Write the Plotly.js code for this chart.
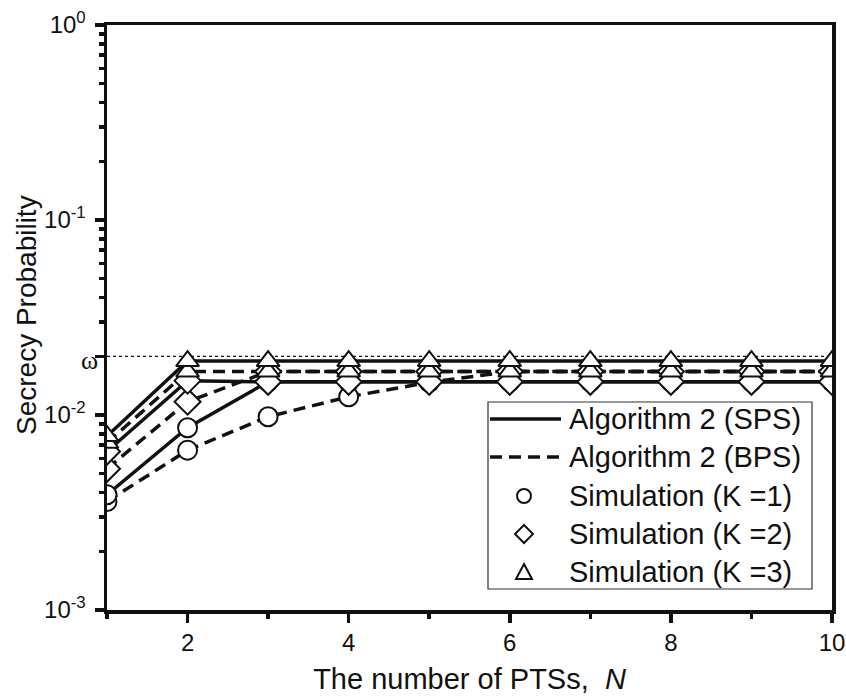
<!DOCTYPE html>
<html><head><meta charset="utf-8">
<script src="https://cdn.plot.ly/plotly-3.0.1.min.js"></script>
<style>body{margin:0;background:#fff}#chart{width:846px;height:696px}</style>
</head><body><div id="chart"></div>
<script>
const N = [1,2,3,4,5,6,7,8,9,10];
const spsK3 = [0.0078,0.0189,0.0189,0.0189,0.0189,0.0189,0.0189,0.0189,0.0189,0.0189];
const bpsK3 = [0.0072,0.0167,0.0167,0.0167,0.0167,0.0167,0.0167,0.0167,0.0167,0.0167];
const spsK2 = [0.0065,0.0150,0.0148,0.0148,0.0148,0.0148,0.0148,0.0148,0.0148,0.0148];
const bpsK2 = [0.0053,0.0117,0.0167,0.0167,0.0167,0.0167,0.0167,0.0167,0.0167,0.0167];
const spsK1 = [0.0039,0.0086,0.0148,0.0148,0.0148,0.0148,0.0148,0.0148,0.0148,0.0148];
const bpsK1 = [0.0036,0.0066,0.0098,0.0124,0.0147,0.0167,0.0167,0.0167,0.0167,0.0167];
const omega = 0.02;
const omegaLabel = "ω";
const legendNames = ["Algorithm 2 (SPS)","Algorithm 2 (BPS)","Simulation (K =1)","Simulation (K =2)","Simulation (K =3)"];
const yTitle = "Secrecy Probability";
const xTitle = "The number of PTSs,  <i>N</i>";
const yTickVals = [0.001,0.01,omega,0.1,1];
const yTickText = ["10<sup>-3</sup>","10<sup>-2</sup>"," ","10<sup>-1</sup>","10<sup>0</sup>"];
const xTickVals = [2,4,6,8,10];

const minorY = [];
for (let e=-3;e<0;e++) for (let d=2;d<=9;d++) minorY.push(d*Math.pow(10,e));

const DASH = '12px,7px';
const LW = 3.5;
function line(y, dash){
  return {x:N, y:y, mode:'lines', type:'scatter', showlegend:false,
    line:{color:'#111', width:LW, dash:dash}, hoverinfo:'skip'};
}
function mk(y, sym, size){
  return {x:N, y:y, mode:'markers', type:'scatter', showlegend:false,
    marker:{symbol:sym, size:size, color:'#fff', line:{color:'#111', width:2}}, cliponaxis:true};
}
const traces = [
  {x:N.slice(0), y:N.map(()=>omega), mode:'lines', showlegend:false, line:{color:'#111', width:1.2, dash:'3px,3px'}},
  line(spsK3,'solid'), line(spsK2,'solid'), line(spsK1,'solid'),
  line(bpsK3,DASH), line(bpsK2,DASH), line(bpsK1,DASH),
  mk(bpsK1,'circle',19), mk(spsK1,'circle',19),
  mk(bpsK2,'diamond',20), mk(spsK2,'diamond',20),
  mk(bpsK3,'triangle-up',20), mk(spsK3,'triangle-up',20)
];

// ----- hand-built legend (paper coordinates) -----
const M = {l:107, r:14, t:25, b:86};
const PW = 846 - M.l - M.r, PH = 696 - M.t - M.b;
const px = v => (v - M.l) / PW;
const py = v => (696 - M.b - v) / PH;
const font = "Liberation Sans, Arial, sans-serif";
const box = {x0:488, x1:812, y0:402, y1:589};
const rows = [419, 457, 496, 534, 572];
const shapes = [
  {type:'rect', xref:'paper', yref:'paper', x0:px(box.x0), x1:px(box.x1), y0:py(box.y1), y1:py(box.y0),
   line:{color:'#333', width:1.2}, fillcolor:'#fff', layer:'above'},
  {type:'line', xref:'paper', yref:'paper', x0:px(490), x1:px(561), y0:py(rows[0]), y1:py(rows[0]),
   line:{color:'#111', width:LW}, layer:'above'},
  {type:'line', xref:'paper', yref:'paper', x0:px(490), x1:px(561), y0:py(rows[1]), y1:py(rows[1]),
   line:{color:'#111', width:LW, dash:DASH}, layer:'above'},
  {type:'circle', xref:'paper', yref:'paper', xsizemode:'pixel', ysizemode:'pixel',
   xanchor:px(524), yanchor:py(rows[2]), x0:-7, x1:7, y0:-7, y1:7,
   line:{color:'#111', width:2}, fillcolor:'#fff', layer:'above'},
  {type:'path', xref:'paper', yref:'paper', xsizemode:'pixel', ysizemode:'pixel',
   xanchor:px(524), yanchor:py(rows[3]), path:'M0,9 L9,0 L0,-9 L-9,0 Z',
   line:{color:'#111', width:2}, fillcolor:'#fff', layer:'above'},
  {type:'path', xref:'paper', yref:'paper', xsizemode:'pixel', ysizemode:'pixel',
   xanchor:px(524), yanchor:py(rows[4]), path:'M0,8 L8,-7 L-8,-7 Z',
   line:{color:'#111', width:2}, fillcolor:'#fff', layer:'above'}
];
const annotations = legendNames.map((t,i)=>({
  text:t, xref:'paper', yref:'paper', x:px(567), y:py(rows[i]), xanchor:'left', yanchor:'middle',
  showarrow:false, font:{family:font, size:29, color:'#111'}
}));
annotations.push({text:yTitle, xref:'paper', yref:'paper', x:px(26), y:py(315), xanchor:'center', yanchor:'middle',
  textangle:-90, showarrow:false, font:{family:font, size:28, color:'#111'}});
annotations.push({text:omegaLabel, xref:'paper', yref:'y', x:px(100), y:Math.log10(omega), xanchor:'right', yanchor:'middle',
  yshift:-4, showarrow:false, font:{family:"Liberation Serif, 'DejaVu Serif', serif", size:26, color:'#111'}});

const layout = {
  width:846, height:696,
  margin:M,
  paper_bgcolor:'#fff', plot_bgcolor:'#fff',
  font:{family:font, size:24, color:'#111'},
  showlegend:false,
  shapes:shapes, annotations:annotations,
  xaxis:{range:[1,10], tickmode:'array', tickvals:xTickVals, ticktext:xTickVals.map(String),
    ticks:'outside', ticklen:9, tickwidth:3.5, tickcolor:'#111',
    showline:true, linewidth:3.5, linecolor:'#111', mirror:true, showgrid:false, zeroline:false,
    minor:{tickmode:'array', tickvals:[1,3,5,7,9], ticks:'outside', ticklen:5, tickwidth:3.5, tickcolor:'#111', showgrid:false},
    tickfont:{size:24}, title:{text:xTitle, font:{size:29}, standoff:14}},
  yaxis:{type:'log', range:[-3,0], tickmode:'array', tickvals:yTickVals, ticktext:yTickText,
    ticks:'outside', ticklen:9, tickwidth:3.5, tickcolor:'#111', ticklabelstandoff:4,
    showline:true, linewidth:3.5, linecolor:'#111', mirror:true, showgrid:false, zeroline:false,
    minor:{tickmode:'array', tickvals:minorY, ticks:'outside', ticklen:5, tickwidth:3.5, tickcolor:'#111', showgrid:false},
    tickfont:{size:24}}
};
Plotly.newPlot('chart', traces, layout, {displayModeBar:false, staticPlot:true});
</script></body></html>
